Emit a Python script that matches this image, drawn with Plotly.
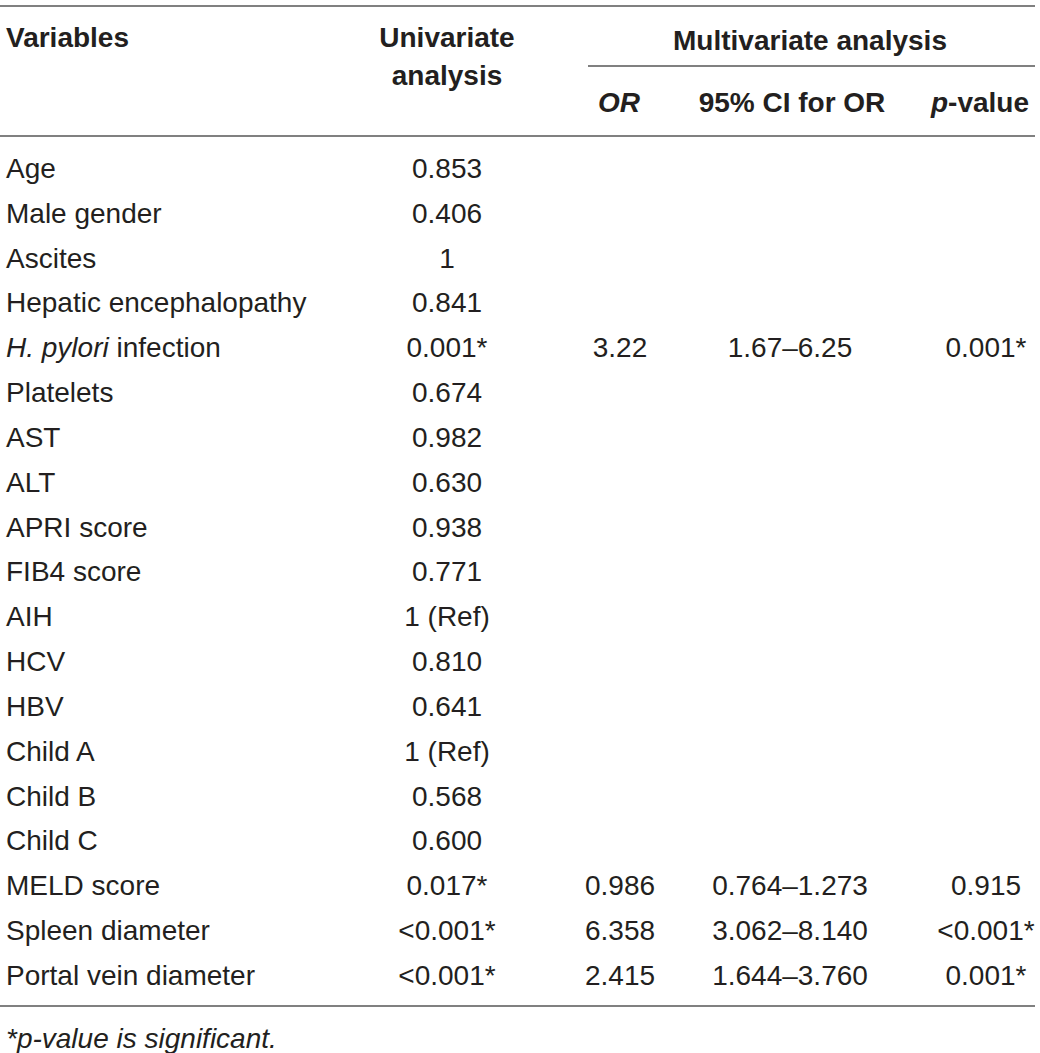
import plotly.graph_objects as go

# table content
variables = ["Age", "Male gender", "Ascites", "Hepatic encephalopathy",
             "<i>H. pylori</i> infection", "Platelets", "AST", "ALT",
             "APRI score", "FIB4 score", "AIH", "HCV", "HBV", "Child A",
             "Child B", "Child C", "MELD score", "Spleen diameter",
             "Portal vein diameter"]
univariate = ["0.853", "0.406", "1", "0.841", "0.001*", "0.674", "0.982",
              "0.630", "0.938", "0.771", "1 (Ref)", "0.810", "0.641",
              "1 (Ref)", "0.568", "0.600", "0.017*", "<0.001*", "<0.001*"]
odds_ratio = ["", "", "", "", "3.22", "", "", "", "", "", "", "", "", "",
              "", "", "0.986", "6.358", "2.415"]
ci_95 = ["", "", "", "", "1.67–6.25", "", "", "", "", "", "", "", "", "",
         "", "", "0.764–1.273", "3.062–8.140", "1.644–3.760"]
p_value = ["", "", "", "", "0.001*", "", "", "", "", "", "", "", "", "",
           "", "", "0.915", "<0.001*", "0.001*"]
footnote = "<i>*p-value is significant.</i>"

W, H = 1040, 1053
FONT = "Liberation Sans, Arial, sans-serif"
TXT = "#231f20"
RULE = "#808080"

row0, step = 171, 44.83
row_y = [row0 + i * step for i in range(len(variables))]

fig = go.Figure()

def col(x, texts, pos="middle center"):
    fig.add_trace(go.Scatter(
        x=[x] * len(texts), y=row_y, text=texts, mode="text",
        textposition=pos, hoverinfo="skip", cliponaxis=False,
        textfont=dict(family=FONT, size=28, color=TXT)))

col(6, variables, "middle right")
col(447, univariate)
col(620, odds_ratio)
col(790, ci_95)
col(986, p_value)

# header cells
hdr_x = [6, 447, 447, 810, 619, 792, 980]
hdr_y = [40, 40, 78, 43, 105, 105, 105]
hdr_t = ["<b>Variables</b>", "<b>Univariate</b>", "<b>analysis</b>",
         "<b>Multivariate analysis</b>", "<b><i>OR</i></b>",
         "<b>95% CI for OR</b>", "<b><i>p</i>-value</b>"]
hdr_pos = ["middle right"] + ["middle center"] * 6
fig.add_trace(go.Scatter(
    x=hdr_x, y=hdr_y, text=hdr_t, mode="text", textposition=hdr_pos,
    hoverinfo="skip", cliponaxis=False,
    textfont=dict(family=FONT, size=28, color=TXT)))

fig.add_trace(go.Scatter(
    x=[6], y=[1041], text=[footnote], mode="text",
    textposition="middle right", hoverinfo="skip", cliponaxis=False,
    textfont=dict(family=FONT, size=28, color=TXT)))

# horizontal rules
for x0, x1, y in [(0, 1035, 6), (588, 1035, 66), (0, 1035, 136),
                  (0, 1035, 1006)]:
    fig.add_shape(type="line", xref="x", yref="y", x0=x0, x1=x1, y0=y, y1=y,
                  line=dict(color=RULE, width=2))

fig.update_xaxes(range=[0, W], visible=False, fixedrange=True)
fig.update_yaxes(range=[H, 0], visible=False, fixedrange=True)
fig.update_layout(width=W, height=H, margin=dict(l=0, r=0, t=0, b=0),
                  plot_bgcolor="white", paper_bgcolor="white",
                  showlegend=False)

# drop the browser's default 8px body margin so the table sits at the corner
fig.write_html("out.html", config={"displayModeBar": False},
               post_script="document.body.style.margin='0';")
